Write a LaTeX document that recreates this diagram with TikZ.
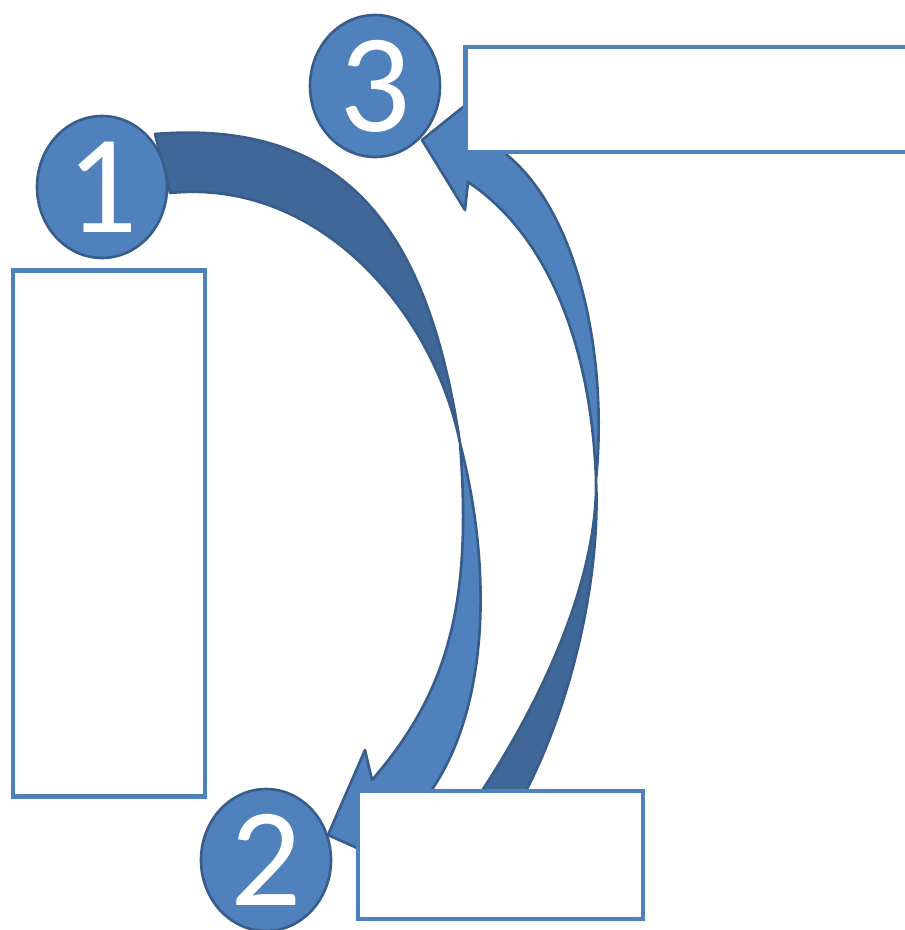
\documentclass[tikz,border=0pt]{standalone}
\usepackage{fontspec}
\setmainfont{Carlito}
\usepackage{tikz}
\usetikzlibrary{positioning,shapes.geometric}
\definecolor{cBlue}{HTML}{4F81BD}
\definecolor{cDeep}{HTML}{3F6797}
\definecolor{cEdge}{HTML}{385D8A}
\tikzset{
  numdot/.style={ellipse,draw=cEdge,fill=cBlue,line width=1.5pt,minimum width=2.6cm,minimum height=2.84cm,inner sep=0pt,text=white,font=\fontsize{80}{80}\selectfont},
  emptybox/.style={draw=cBlue,fill=white,line width=2.8pt,inner sep=0pt},
  ribfront/.style={draw=cEdge,fill=cBlue,line width=1.5pt,line join=round},
  ribback/.style={draw=cEdge,fill=cDeep,line width=1.5pt,line join=round},
}
\begin{document}
\begin{tikzpicture}[x=0.02cm,y=-0.02cm]
  \useasboundingbox (0,0) rectangle (905,930);
  \coordinate (tipA) at (328,835); \coordinate (twistA) at (460,443);
  \coordinate (tipB) at (422,140); \coordinate (twistB) at (596,480);
  \filldraw[ribback] (155,134) .. controls (355,118) and (430,243) .. (twistA)
    .. controls (434,313) and (320,178) .. (170,193) -- cycle;
  \filldraw[ribfront] (twistA) .. controls (472,600) and (450,690) .. (372,780)
    -- (365,750) -- (tipA) -- (404,869) -- (422,815) -- (433,788)
    .. controls (485,710) and (495,580) .. (twistA) -- cycle;
  \filldraw[ribback] (twistB) .. controls (598,580) and (540,710) .. (462,820)
    -- (510,820) .. controls (570,720) and (601,580) .. (twistB) -- cycle;
  \filldraw[ribfront] (twistB) .. controls (592,360) and (555,240) .. (468,182)
    -- (465,210) -- (tipB) -- (488,87) -- (495,135) -- (507,155)
    .. controls (580,215) and (608,360) .. (twistB) -- cycle;
  \node[emptybox,minimum width=3.84cm,minimum height=10.54cm] (boxL) at (109,533.5) {};
  \node[emptybox,minimum width=8.9cm,minimum height=2.1cm] (boxT) at (687.5,99.5) {};
  \node[emptybox,minimum width=5.7cm,minimum height=2.56cm] (boxB) at (500.5,855) {};
  \node[numdot] (n1) at (102,187) {1};
  \node[numdot] (n2) at (266,860) {2};
  \node[numdot] (n3) at (375,86) {3};
\end{tikzpicture}
\end{document}
